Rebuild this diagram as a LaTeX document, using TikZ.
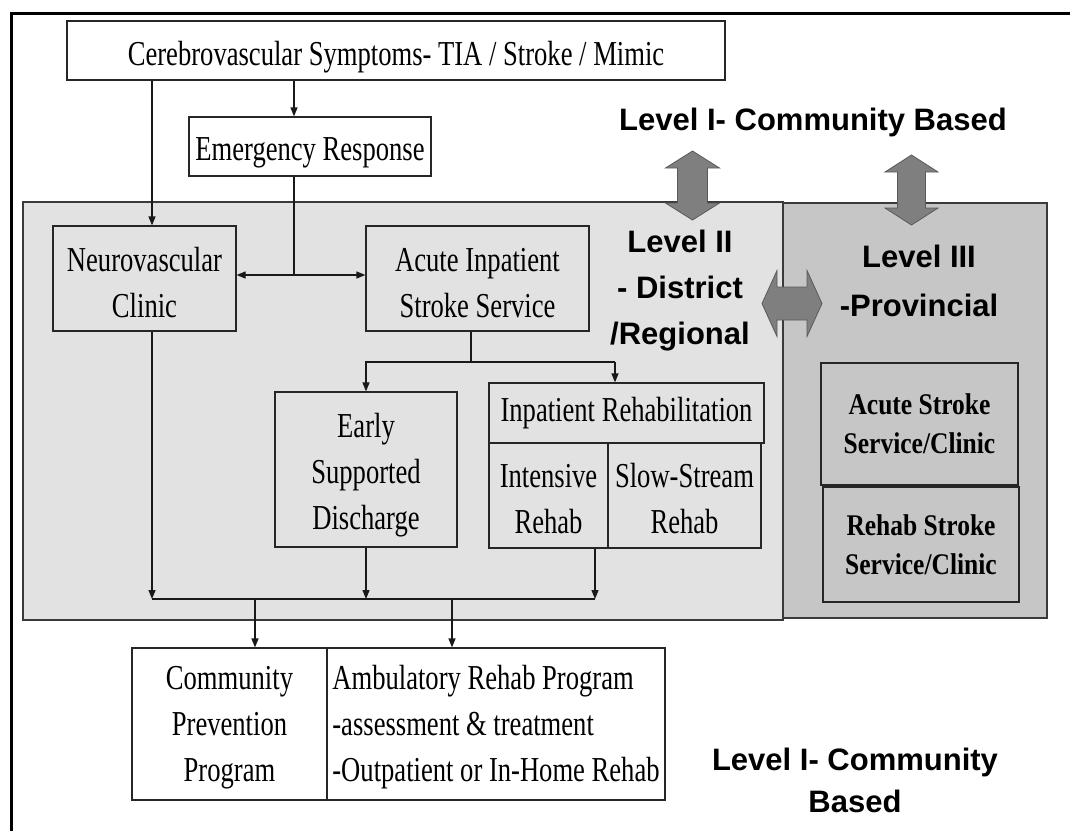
\documentclass[tikz,border=0pt]{standalone}
\usepackage{fontspec}
\setmainfont{Liberation Serif}
\newfontfamily\condserif[FakeStretch=0.76]{Liberation Serif}
\newfontfamily\condbold[FakeStretch=0.85]{Liberation Serif}
\newfontfamily\lsans{Liberation Sans}
\usetikzlibrary{arrows.meta,calc}
\definecolor{lvtwo}{HTML}{E2E2E2}
\definecolor{lvthree}{HTML}{C6C6C6}
\definecolor{blockarrow}{HTML}{7F7F7F}
\definecolor{edgegray}{HTML}{3A3A3A}
\newcommand{\pushdown}[1]{\rule{0pt}{#1}}
\tikzset{
  box/.style={draw=black!85, line width=1.2pt, inner sep=0pt, align=center,
    font=\condserif\fontsize{35}{46}\selectfont},
  boldbox/.style={box, font=\condbold\bfseries\fontsize{30}{39}\selectfont},
  region/.style={draw=edgegray, line width=1.2pt, inner sep=0pt},
  conn/.style={line width=1.2pt, draw=black!90},
  arr/.style={conn, -{Triangle[length=9pt,width=7pt]}},
  darr/.style={conn, {Triangle[length=9pt,width=7pt]}-{Triangle[length=9pt,width=7pt]}},
  lvl/.style={font=\lsans\bfseries\fontsize{31}{46}\selectfont, align=center, inner sep=0pt},
  blockarr/.style={fill=blockarrow, draw=black!65, line width=0.8pt},
}
\begin{document}
\begin{tikzpicture}[x=1pt,y=-1pt]
\useasboundingbox (0,0) rectangle (1074,831);
% outer frame (left and top edges)
\draw[line width=3pt] (11,831) -- (11,13) -- (1070,13);

% level regions
\node[region, fill=lvtwo, minimum width=760pt, minimum height=418pt] (lv2) at (403,411) {};
\node[region, fill=lvthree, minimum width=264pt, minimum height=415pt] (lv3) at (915,410.5) {};

% boxes
\node[box, minimum width=658pt, minimum height=59pt, text height=29pt, text depth=0pt] (top) at (396,50.5) {Cerebrovascular Symptoms- TIA / Stroke / Mimic};
\node[box, minimum width=242pt, minimum height=59pt, text height=27pt, text depth=0pt] (er) at (310,146.5) {Emergency Response};
\node[box, minimum width=183pt, minimum height=105pt] (neuro) at (144.5,278.5) {\pushdown{32pt}Neurovascular\\Clinic};
\node[box, minimum width=223pt, minimum height=105pt] (acute) at (477.5,278.5) {\pushdown{32pt}Acute Inpatient\\Stroke Service};
\node[box, minimum width=182pt, minimum height=155pt] (esd) at (366,469.5) {\pushdown{36pt}Early\\Supported\\Discharge};
\node[box, minimum width=275pt, minimum height=60pt] (irh) at (626.5,413) {Inpatient Rehabilitation};
\node[box, minimum width=119pt, minimum height=105pt] (intens) at (548.5,495.5) {\pushdown{30pt}Intensive\\Rehab};
\node[box, minimum width=153pt, minimum height=105pt] (slow) at (684.5,495.5) {\pushdown{30pt}Slow-Stream\\Rehab};
\node[boldbox, minimum width=197pt, minimum height=122pt] (asc) at (919.5,424) {Acute Stroke\\Service/Clinic};
\node[boldbox, minimum width=196pt, minimum height=115pt] (rsc) at (921,544.5) {Rehab Stroke\\Service/Clinic};
\node[box, minimum width=195pt, minimum height=152pt] (comm) at (229.5,724) {\pushdown{30pt}Community\\Prevention\\Program};
\node[box, minimum width=338pt, minimum height=152pt, align=left] (amb) at (496,724) {\pushdown{30pt}Ambulatory Rehab Program\\-assessment \& treatment\\-Outpatient or In-Home Rehab};

% block arrows
\draw[blockarr] (692.5,151) -- (719.5,168) -- (707.5,168) -- (707.5,203) -- (719.5,203) -- (692.5,220) -- (665.5,203) -- (677.5,203) -- (677.5,168) -- (665.5,168) -- cycle;
\draw[blockarr] (911.5,155) -- (938,172) -- (925.5,172) -- (925.5,208) -- (938,208) -- (911.5,225) -- (885,208) -- (897.5,208) -- (897.5,172) -- (885,172) -- cycle;
\draw[blockarr] (762,303.5) -- (777,270.5) -- (777,287) -- (807,287) -- (807,270.5) -- (822,303.5) -- (807,336.5) -- (807,320) -- (777,320) -- (777,336.5) -- cycle;

% helper coordinates
\coordinate (xA) at (152,0);
\coordinate (xB) at (294,0);
\coordinate (xC) at (471,0);
\coordinate (xE) at (615,0);
\coordinate (xF) at (595,0);
\coordinate (xG) at (255,0);
\coordinate (xH) at (452,0);
\coordinate (yL) at (0,275);
\coordinate (yJ) at (0,362);
\coordinate (yK) at (0,599);

% connectors
\draw[arr] (xA |- top.south) -- (xA |- neuro.north);
\draw[arr] (xB |- top.south) -- (xB |- er.north);
\draw[conn] (xB |- er.south) -- (xB |- yL);
\draw[darr] (neuro.east |- yL) -- (acute.west |- yL);
\draw[conn] (xC |- acute.south) -- (xC |- yJ);
\draw[conn] (acute.west |- yJ) -- (xE |- yJ);
\draw[arr] (esd.north |- yJ) -- (esd.north);
\draw[arr] (xE |- yJ) -- (xE |- irh.north);
\draw[arr] (xA |- neuro.south) -- (xA |- yK);
\draw[arr] (esd.south) -- (esd.south |- yK);
\draw[arr] (xF |- intens.south) -- (xF |- yK);
\draw[conn] (xA |- yK) -- (xF |- yK);
\draw[arr] (xG |- yK) -- (xG |- comm.north);
\draw[arr] (xH |- yK) -- (xH |- amb.north);

% level labels
\node[lvl] (l1top) at (813,122) {Level I- Community Based};
\node[lvl] (l2) at (680,291) {Level II\\- District\\/Regional};
\node[lvl, font=\lsans\bfseries\fontsize{31}{49}\selectfont] (l3) at (919,281) {Level III\\-Provincial};
\node[lvl, font=\lsans\bfseries\fontsize{31}{42}\selectfont] (l1bot) at (855,780) {Level I- Community\\Based};
\end{tikzpicture}
\end{document}
